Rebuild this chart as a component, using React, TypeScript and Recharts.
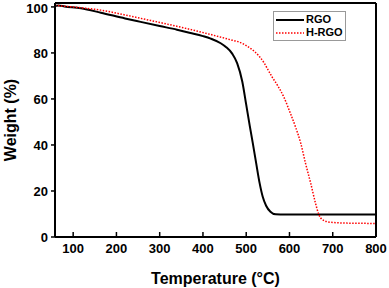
import { LineChart, Line, XAxis, YAxis, ReferenceLine } from "recharts";

const rgoTemp = [58, 66, 80, 118, 164, 220, 256, 300, 340, 371, 400, 418, 441, 453, 468, 479, 491, 500, 508, 515, 523, 531, 538, 546, 556, 568, 590, 700, 800];
const rgoWeight = [100.4, 100.6, 100.2, 99.4, 97.5, 95.0, 93.5, 91.7, 90.1, 88.7, 87.3, 86.2, 84.2, 82.6, 79.6, 75.6, 67.5, 57.5, 48.5, 41.0, 32.1, 23.4, 17.6, 13.6, 11.0, 9.9, 9.8, 9.8, 9.8];

const hrgoTemp = [58, 80, 120, 164, 220, 279, 330, 371, 418, 464, 487, 499, 510, 521, 531, 541, 550, 560, 572, 587, 602, 614, 626, 637, 649, 660, 668, 679, 695, 741, 800];
const hrgoWeight = [100.7, 100.3, 99.6, 98.6, 96.5, 94.1, 92.0, 90.2, 88.0, 85.7, 84.5, 83.3, 82.0, 80.3, 78.3, 75.8, 72.8, 69.5, 66.0, 60.8, 53.8, 47.8, 40.8, 32.1, 23.4, 14.8, 9.7, 7.2, 6.4, 6.0, 5.9];

const xTicks = [100, 200, 300, 400, 500, 600, 700, 800];
const yTicks = [0, 20, 40, 60, 80, 100];

const rgoData = rgoTemp.map((t, i) => ({ t, w: rgoWeight[i] }));
const hrgoData = hrgoTemp.map((t, i) => ({ t, w: hrgoWeight[i] }));

const FONT = "'Liberation Sans', Arial, sans-serif";
const Y_MAX = 101.7;

const XTick = ({ x, y, payload }: any) => (
  <g>
    <line x1={x} x2={x} y1={y} y2={y - 5} stroke="#000" strokeWidth={1.5} />
    <text x={x} y={y + 16} textAnchor="middle" fontFamily={FONT} fontWeight="bold" fontSize={13} fill="#000">
      {payload.value}
    </text>
  </g>
);

const LegendBox = () => (
  <div
    style={{
      position: "absolute",
      left: 273,
      top: 11,
      width: 69,
      border: "1px solid #999",
      background: "#fff",
      padding: "1px 0 1px 2px",
      fontFamily: FONT,
      fontWeight: "bold",
      fontSize: 11,
      lineHeight: "13px",
      whiteSpace: "nowrap",
    }}
  >
    <div style={{ display: "flex", alignItems: "center" }}>
      <svg width={28} height={8}>
        <line x1={0} x2={28} y1={4} y2={4} stroke="#000" strokeWidth={2} />
      </svg>
      <span style={{ marginLeft: 2 }}>RGO</span>
    </div>
    <div style={{ display: "flex", alignItems: "center" }}>
      <svg width={28} height={8}>
        <line x1={0} x2={28} y1={4} y2={4} stroke="#ff0000" strokeWidth={1.5} strokeDasharray="1.5 1.5" />
      </svg>
      <span style={{ marginLeft: 2 }}>H-RGO</span>
    </div>
  </div>
);

export default function App() {
  return (
    <div style={{ position: "absolute", left: 0, top: 0, width: 389, height: 288, background: "#fff" }}>
      <LineChart width={389} height={288} margin={{ top: 3, right: 13, bottom: 21, left: 15 }}>
        <XAxis
          dataKey="t"
          type="number"
          domain={[58, 800]}
          ticks={xTicks}
          allowDataOverflow
          axisLine={{ stroke: "#000", strokeWidth: 2 }}
          tickLine={false}
          tickSize={0}
          tickMargin={0}
          tick={<XTick />}
          height={30}
          label={{
            content: ({ viewBox }: any) => (
              <text
                x={viewBox.x + viewBox.width / 2}
                y={284}
                textAnchor="middle"
                fontFamily={FONT}
                fontWeight="bold"
                fontSize={16}
                fill="#000"
              >
                Temperature (°C)
              </text>
            ),
          }}
        />
        <YAxis
          type="number"
          domain={[0, Y_MAX]}
          ticks={yTicks}
          allowDataOverflow
          width={40}
          axisLine={{ stroke: "#000", strokeWidth: 2 }}
          tickLine={{ stroke: "#000", strokeWidth: 1.5 }}
          tickSize={4}
          tickMargin={3}
          tick={{ fontFamily: FONT, fontWeight: "bold", fontSize: 13, fill: "#000" }}
          label={{
            content: ({ viewBox }: any) => (
              <text
                x={10}
                y={viewBox.y + viewBox.height / 2}
                transform={`rotate(-90, 10, ${viewBox.y + viewBox.height / 2})`}
                textAnchor="middle"
                dominantBaseline="central"
                fontFamily={FONT}
                fontWeight="bold"
                fontSize={16}
                fill="#000"
              >
                Weight (%)
              </text>
            ),
          }}
        />
        <ReferenceLine y={Y_MAX} stroke="#000" strokeWidth={2} />
        <ReferenceLine x={800} stroke="#000" strokeWidth={2} />
        <Line
          data={rgoData}
          dataKey="w"
          name="RGO"
          type="monotone"
          stroke="#000"
          strokeWidth={2}
          dot={false}
          isAnimationActive={false}
        />
        <Line
          data={hrgoData}
          dataKey="w"
          name="H-RGO"
          type="monotone"
          stroke="#ff0000"
          strokeWidth={1.5}
          strokeDasharray="1.5 1.5"
          dot={false}
          isAnimationActive={false}
        />
      </LineChart>
      <LegendBox />
    </div>
  );
}
